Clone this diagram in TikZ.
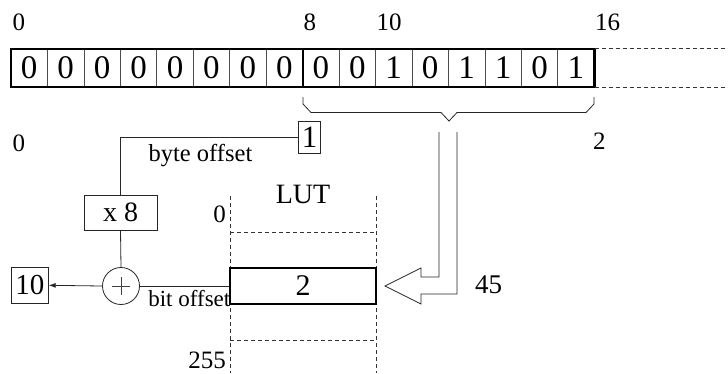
\documentclass[tikz,border=0pt]{standalone}
\usepackage{fontspec}
\setmainfont{Liberation Serif}
\usetikzlibrary{arrows.meta}
\newcommand{\fsz}[1]{\fontsize{#1}{#1}\selectfont}
\begin{document}
\begin{tikzpicture}[x=1pt,y=-1pt,
  thinline/.style={line width=0.8pt, draw=black!85},
  cellbox/.style={draw=black!70, line width=0.7pt, minimum width=36.45pt,
    minimum height=37.5pt, inner sep=0pt, font=\fsz{33}},
  lbl/.style={inner sep=0pt, font=\fsz{25}},
  valbox/.style={draw=black!85, line width=0.8pt, inner sep=0pt},
  dashline/.style={line width=0.7pt, draw=black!80, dash pattern=on 4pt off 3pt},
  small/.style={inner sep=0pt, font=\fsz{23}},
]
\path[use as bounding box] (0,0) rectangle (728,373);

% the 16-bit word
\foreach \v [count=\i from 0] in {0,0,0,0,0,0,0,0,0,0,1,0,1,1,0,1}
  \node[cellbox] (c\i) at ({11+36.45*\i+18.225}, 67.75) {\v};
\draw[line width=2.2pt] (c0.north west) rectangle (c15.south east);
\draw[line width=2.2pt] (c7.north east) -- (c7.south east);
\draw[dashline] (c15.north east) -- ++(140,0);
\draw[dashline] (c15.south east) -- ++(140,0);

% bit positions
\node[lbl, anchor=base west] (t0)  at (12.5,30) {0};
\node[lbl, anchor=base west] (t8)  at (303.5,30) {8};
\node[lbl, anchor=base west] (t10) at (376.5,30) {10};
\node[lbl, anchor=base west] (t16) at (595,30) {16};

% brace under the second byte
\coordinate (bt) at (449,121);
\draw[thinline] (303,97) -- (303,104) -- (311,112.5) -- (441,112.5) -- (bt)
  -- (457,112.5) -- (586,112.5) -- (594,104) -- (594,97);

% byte indices
\node[lbl, anchor=base west] (s0) at (12.5,151) {0};
\node[lbl, anchor=base west] (s2) at (593,149) {2};

% byte offset path
\node[valbox, minimum width=22.4pt, minimum height=31.6pt, font=\fsz{31}] (one) at (309.5,137.5) {1};
\node[valbox, minimum width=73pt, minimum height=35pt, font=\fsz{28}] (xe) at (120.5,212.5) {x 8};
\node[draw=black!85, circle, minimum size=37pt, inner sep=0pt, line width=0.8pt] (plus) at (121,286) {};
\draw[line width=0.7pt, black!75] ([xshift=-9pt]plus.center) -- ([xshift=9pt]plus.center);
\draw[line width=0.7pt, black!75] ([yshift=-9pt]plus.center) -- ([yshift=9pt]plus.center);
\node[valbox, minimum width=36.6pt, minimum height=36pt, font=\fsz{29}] (ten) at (30,285.3) {10};

\node[small, font=\fsz{24.5}, anchor=base] (byteoff) at (200.5,161) {byte offset};
\node[small, anchor=base east] (bitoff) at (230.5,306.7) {bit offset};

% lookup table
\coordinate (lutl) at (230,196);
\coordinate (lutr) at (376,196);
\draw[dashline] (lutl) -- (230,373);
\draw[dashline] (lutr) -- (376,373);
\draw[dashline] (230,232.3) -- (376,232.3);
\draw[dashline] (230,340.7) -- (376,340.7);
\node[draw, line width=1.7pt, minimum width=146pt, minimum height=36pt, inner sep=0pt,
  font=\fsz{30}] (entry) at (303,286) {2};
\node[lbl, font=\fsz{28}, anchor=base] (lut) at (303,203.3) {LUT};
\node[lbl, anchor=base east] (l0) at (226,222) {0};
\node[lbl, anchor=base east] (l255) at (226,368) {255};

% connectors
\draw[thinline] (one.west) -| (xe.north);
\draw[thinline] (xe.south) -- (plus.north);
\draw[thinline] (entry.west) -- (plus.east);
\draw[thinline, -{Latex[length=7pt,width=5pt]}] (plus.west) -- (ten.east);

% hollow index arrow into the table
\draw[thinline, line join=miter] (439,132) -- (439,277) -- (421,277) -- (421,268)
  -- (385,286) -- (421,304) -- (421,294) -- (457,294) -- (457,132);
\node[lbl, font=\fsz{27}, anchor=base west] (n45) at (475,293) {45};
\end{tikzpicture}
\end{document}
